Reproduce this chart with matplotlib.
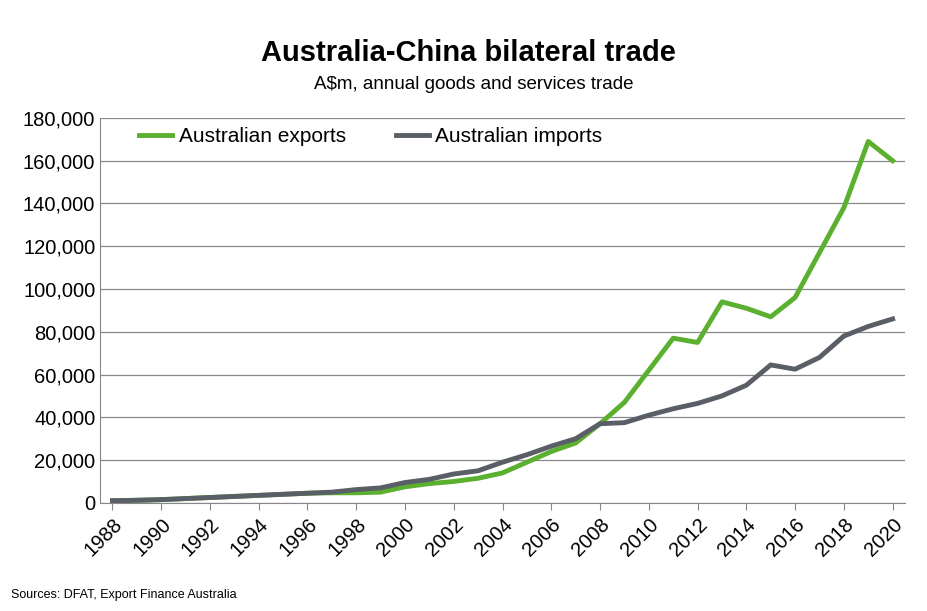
import matplotlib
matplotlib.use("Agg")
import matplotlib.pyplot as plt

years = list(range(1988, 2021))
exports = [1000, 1200, 1500, 2000, 2500, 3000, 3500, 4000, 4500, 4700, 4700, 5000, 7500, 9000,
           10000, 11500, 14000, 19000, 24000, 28000, 37000, 47000, 62000, 77000, 75000, 94000,
           91000, 87000, 96000, 117000, 138000, 169000, 160000]
imports = [1000, 1200, 1500, 2000, 2500, 3000, 3500, 4000, 4500, 5000, 6200, 7000, 9500, 11000,
           13500, 15000, 19000, 22500, 26500, 30000, 37000, 37500, 41000, 44000, 46500, 50000,
           55000, 64500, 62500, 68000, 78000, 82500, 86000]

plt.rcParams["font.family"] = "Liberation Sans"
fig = plt.figure(figsize=(9.28, 6.11), dpi=100)
ax = fig.add_axes([0.108, 0.177, 0.867, 0.630])
ax.plot(years, exports, color="#5BB030", lw=3.5, label="Australian exports", solid_joinstyle="round")
ax.plot(years, imports, color="#5A5E66", lw=3.5, label="Australian imports", solid_joinstyle="round")
ax.set_xlim(1987.5, 2020.5)
ax.set_ylim(0, 180000)
ax.set_yticks(range(0, 180001, 20000))
ax.set_yticklabels([f"{v:,}" for v in range(0, 180001, 20000)], fontsize=14.5)
ax.set_xticks(years[::2])
ax.set_xticklabels([str(y) for y in years[::2]], rotation=45, ha="right", rotation_mode="anchor", fontsize=14.5)
ax.grid(axis="y", color="#888888", lw=0.9)
ax.set_axisbelow(True)
for s in ["top", "right"]:
    ax.spines[s].set_visible(False)
ax.spines["left"].set_color("#888888")
ax.spines["bottom"].set_color("#888888")
ax.tick_params(axis="y", length=0)
ax.tick_params(axis="x", color="#888888", length=5)
ax.legend(loc="upper left", frameon=False, ncol=2, fontsize=15, handlelength=1.6,
          handletextpad=0.3, columnspacing=2.4, bbox_to_anchor=(0.025, 1.025))
fig.text(0.505, 0.9, "Australia-China bilateral trade", ha="center", fontsize=21, fontweight="bold")
fig.text(0.51, 0.855, "A$m, annual goods and services trade", ha="center", fontsize=13.5)
fig.text(0.012, 0.022, "Sources: DFAT, Export Finance Australia", fontsize=9)
fig.savefig("out.png", dpi=100)
